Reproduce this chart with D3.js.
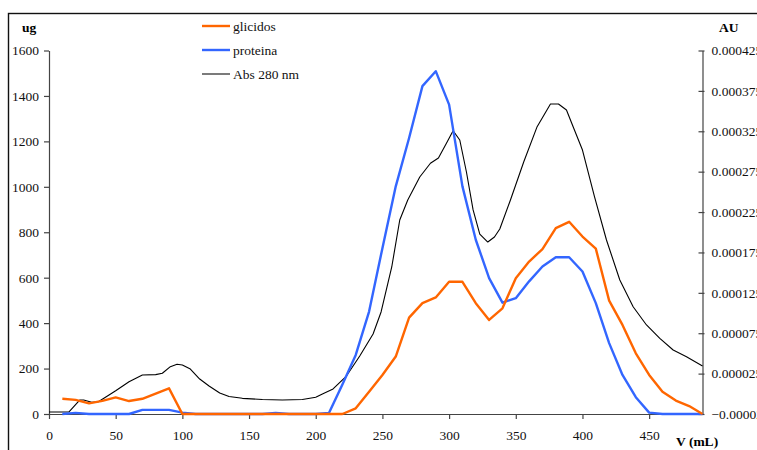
<!DOCTYPE html>
<html>
<head>
<meta charset="utf-8">
<script src="https://cdn.jsdelivr.net/npm/d3@7"></script>
<style>
  html, body { margin: 0; padding: 0; background: #fff; overflow: hidden; }
  svg { display: block; font-family: "Liberation Serif", "Times New Roman", serif; }
</style>
</head>
<body>
<svg id="chart" width="757" height="450"></svg>
<script>
// Elution volume (mL) for the fraction assays
const fractionVolume = [10, 20, 30, 40, 50, 60, 70, 80, 90, 100, 110, 120, 130, 140, 150, 160, 170, 180, 190, 200,
  210, 220, 230, 240, 250, 260, 270, 280, 290, 300, 310, 320, 330, 340, 350, 360, 370, 380, 390, 400,
  410, 420, 430, 440, 450, 460, 470, 480, 490];

// Carbohydrates (ug)
const glicidos = [67, 62, 47, 58, 73, 57, 67, 90, 113, 0, 0, 0, 0, 0, 0, 0, 0, 0, 0, 0,
  0, 0, 25, 98, 172, 253, 424, 488, 513, 582, 582, 488, 414, 465, 598, 671, 726, 818, 846, 781,
  728, 499, 392, 267, 172, 98, 59, 35, 0];

// Protein (ug)
const proteina = [0, 5, 0, 0, 0, 0, 18, 18, 18, 6, 0, 0, 0, 0, 0, 0, 5, 0, 0, 0,
  5, 130, 260, 451, 730, 1002, 1215, 1443, 1509, 1362, 1002, 767, 598, 490, 510, 584, 649, 690, 690, 627,
  488, 312, 172, 74, 6, 0, 0, 0, 0];

// Absorbance trace at 280 nm (volume in mL, absorbance in AU)
const absVolume = [0, 15, 23, 26, 32, 37, 45, 50, 60, 70, 80, 85, 91, 96, 100, 106, 113, 120, 128, 135,
  145, 160, 175, 190, 200, 205, 213, 223, 233, 243, 249, 257, 263, 269, 278, 286, 292, 298, 303, 308,
  313, 318, 323, 329, 334, 338, 346, 356, 366, 376, 382, 388, 393, 400, 409, 418, 428, 438, 448, 458,
  468, 478, 490];
const abs280 = [-0.0000225, -0.0000225, -0.0000077, -0.0000077, -0.0000105, -0.0000098, -0.0000015, 0.0000038, 0.0000150, 0.0000233,
  0.0000237, 0.0000254, 0.0000336, 0.0000365, 0.0000357, 0.0000307, 0.0000183, 0.0000097, 0.0000010, -0.0000033,
  -0.0000056, -0.0000070, -0.0000077, -0.0000070, -0.0000043, -0.0000002, 0.0000060, 0.0000220, 0.0000468, 0.0000740,
  0.0001013, 0.0001570, 0.0002152, 0.0002399, 0.0002684, 0.0002854, 0.0002919, 0.0003101, 0.0003257, 0.0003142,
  0.0002746, 0.0002276, 0.0001978, 0.0001879, 0.0001941, 0.0002040, 0.0002399, 0.0002873, 0.0003307, 0.0003588,
  0.0003588, 0.0003514, 0.0003307, 0.0003018, 0.0002440, 0.0001904, 0.0001409, 0.0001078, 0.0000852, 0.0000687,
  0.0000542, 0.0000459, 0.0000344];

// Axis ticks
const xTicks = [0, 50, 100, 150, 200, 250, 300, 350, 400, 450];
const ugTicks = [0, 200, 400, 600, 800, 1000, 1200, 1400, 1600];
const auTicks = [-0.000025, 0.000025, 0.000075, 0.000125, 0.000175, 0.000225, 0.000275, 0.000325, 0.000375, 0.000425];

const seriesNames = ["glicidos", "proteina", "Abs 280 nm"];
const seriesColors = ["#FF6600", "#3366FF", "#000000"];

const svg = d3.select("#chart");
const plotLeft = 49, plotRight = 702.5, plotTop = 50.5, plotBottom = 414;

const x = d3.scaleLinear().domain([0, 490]).range([plotLeft, plotRight]);
const yUg = d3.scaleLinear().domain([0, 1600]).range([plotBottom, plotTop]);
const yAu = d3.scaleLinear().domain([-0.000025, 0.000425]).range([plotBottom, plotTop]);

// outer frame
svg.append("rect")
  .attr("x", 8.5).attr("y", 13.5)
  .attr("width", 820).attr("height", 520)
  .attr("fill", "none").attr("stroke", "#111").attr("stroke-width", 1.4);

const axisColor = "#444";
const fontSize = 13.5;

// x axis
const xAxis = svg.append("g").attr("transform", `translate(0,${plotBottom})`)
  .call(d3.axisBottom(x).tickValues(xTicks).tickFormat(d3.format("d"))
    .tickSize(5).tickPadding(11).tickSizeOuter(0));
// left axis
const yAxisL = svg.append("g").attr("transform", `translate(${plotLeft},0)`)
  .call(d3.axisLeft(yUg).tickValues(ugTicks).tickFormat(d3.format("d"))
    .tickSize(5).tickPadding(5).tickSizeOuter(0));
// right axis (ticks cross the axis line)
const yAxisR = svg.append("g").attr("transform", `translate(${plotRight},0)`)
  .call(d3.axisRight(yAu).tickValues(auTicks).tickFormat(d3.format(".6f"))
    .tickSize(2).tickPadding(7).tickSizeOuter(0));
yAxisR.selectAll(".tick line").attr("x1", -4).attr("x2", 2);

[xAxis, yAxisL, yAxisR].forEach(g => {
  g.select(".domain").attr("stroke", axisColor).attr("stroke-width", 1.2);
  g.selectAll(".tick line").attr("stroke", axisColor).attr("stroke-width", 1.2);
  g.selectAll("text").attr("font-family", "Liberation Serif").attr("font-size", fontSize).attr("fill", "#111");
});
yAxisL.selectAll("text").attr("x", -10);

// series lines
const lineUg = d3.line().x((d, i) => x(fractionVolume[i])).y(d => yUg(d));
const lineAu = d3.line().x((d, i) => x(absVolume[i])).y(d => yAu(d));

svg.append("path").datum(abs280)
  .attr("d", lineAu).attr("fill", "none")
  .attr("stroke", seriesColors[2]).attr("stroke-width", 1.1).attr("stroke-linejoin", "round");

svg.append("path").datum(proteina)
  .attr("d", lineUg).attr("fill", "none")
  .attr("stroke", seriesColors[1]).attr("stroke-width", 2.4).attr("stroke-linejoin", "round");

svg.append("path").datum(glicidos)
  .attr("d", lineUg).attr("fill", "none")
  .attr("stroke", seriesColors[0]).attr("stroke-width", 2.4).attr("stroke-linejoin", "round");

// axis titles
svg.append("text").attr("x", 22).attr("y", 32).attr("font-weight", "bold")
  .attr("font-size", fontSize).attr("font-family", "Liberation Serif").text("ug");
svg.append("text").attr("x", 719).attr("y", 32).attr("font-weight", "bold")
  .attr("font-size", fontSize).attr("font-family", "Liberation Serif").text("AU");
svg.append("text").attr("x", 676).attr("y", 446).attr("font-weight", "bold")
  .attr("font-size", fontSize).attr("font-family", "Liberation Serif").text("V (mL)");

// legend
const legend = svg.append("g");
seriesNames.forEach((name, i) => {
  const ly = 26 + i * 24;
  legend.append("line").attr("x1", 202).attr("x2", 230).attr("y1", ly).attr("y2", ly)
    .attr("stroke", i === 2 ? "#333" : seriesColors[i]).attr("stroke-width", i === 2 ? 1.3 : 2.4);
  legend.append("text").attr("x", 233).attr("y", ly + 4.5)
    .attr("font-family", "Liberation Serif").attr("font-size", fontSize).attr("fill", "#111").text(name);
});
</script>
</body>
</html>
